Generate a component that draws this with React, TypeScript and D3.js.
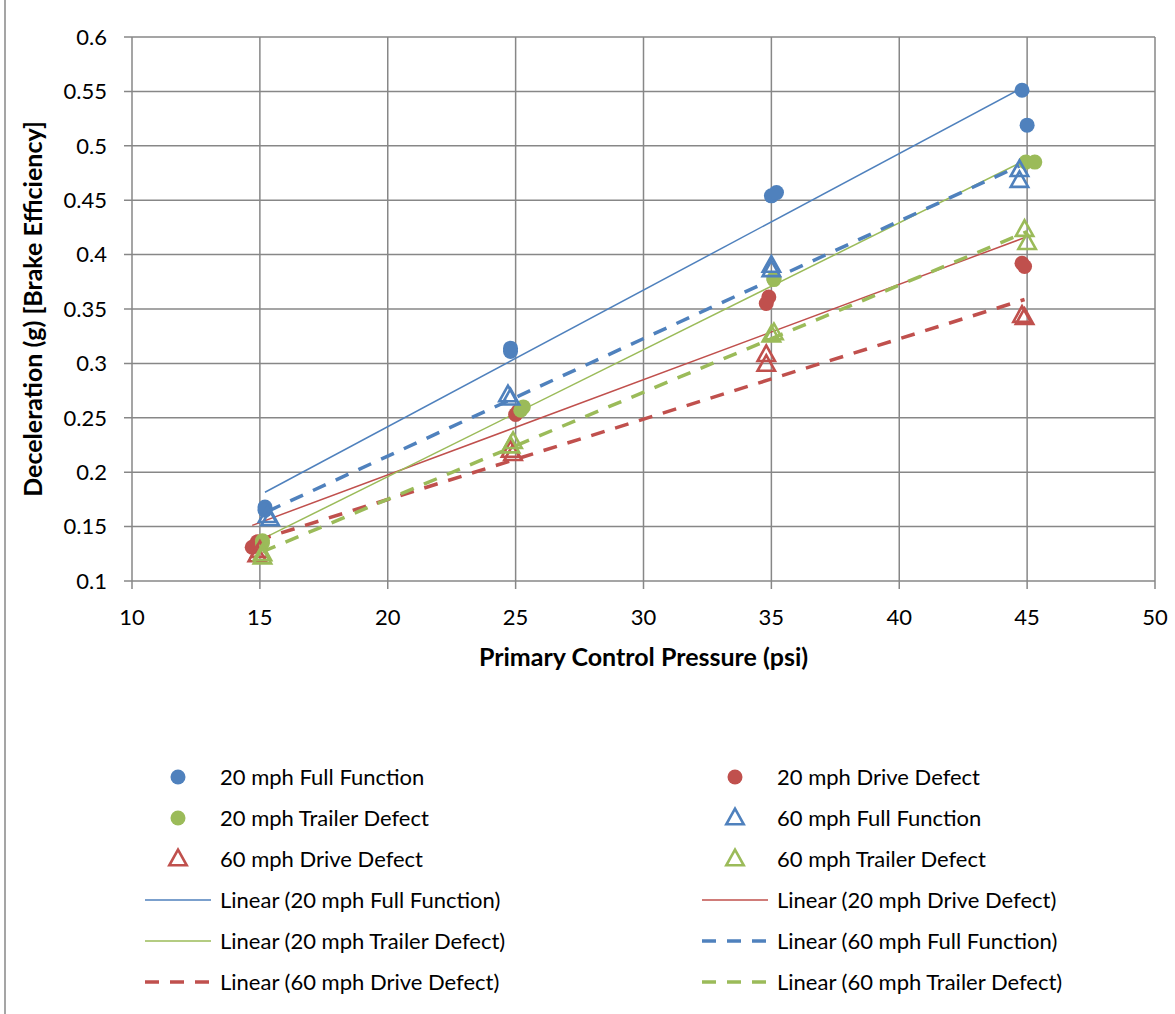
import React from 'react';
import * as d3 from 'd3';

// [psi, g] pairs
const ff20: [number, number][] = [[15.2, 0.168], [15.2, 0.165], [24.8, 0.314], [24.8, 0.311], [35.0, 0.454], [35.2, 0.457], [44.8, 0.551], [45.0, 0.519]];
const dd20: [number, number][] = [[14.7, 0.131], [14.9, 0.136], [25.0, 0.253], [25.1, 0.256], [34.9, 0.361], [34.8, 0.355], [44.8, 0.392], [44.9, 0.389]];
const tt20: [number, number][] = [[15.1, 0.137], [15.1, 0.135], [25.2, 0.257], [25.3, 0.260], [35.1, 0.377], [35.1, 0.378], [44.95, 0.485], [45.3, 0.485]];
const ff60: [number, number][] = [[15.3, 0.160], [15.4, 0.157], [24.7, 0.271], [24.8, 0.268], [35.0, 0.390], [35.0, 0.386], [44.7, 0.478], [44.7, 0.468]];
const dd60: [number, number][] = [[14.9, 0.124], [15.0, 0.128], [24.8, 0.220], [24.9, 0.217], [34.8, 0.308], [34.8, 0.299], [44.8, 0.344], [44.9, 0.342]];
const tt60: [number, number][] = [[15.1, 0.122], [15.1, 0.125], [24.9, 0.228], [24.8, 0.224], [35.0, 0.326], [35.1, 0.328], [44.9, 0.423], [45.0, 0.411]];

const xTicks = [10, 15, 20, 25, 30, 35, 40, 45, 50];
const yTicks = [0.1, 0.15, 0.2, 0.25, 0.3, 0.35, 0.4, 0.45, 0.5, 0.55, 0.6];

const BLUE = '#4F81BD';
const RED = '#C0504D';
const GREEN = '#9BBB59';
const GRID = '#878787';
const FONT = 'Lato, "Open Sans", sans-serif';

type Series = { name: string; data: [number, number][]; color: string; marker: 'circle' | 'triangle'; dashed: boolean };

const series: Series[] = [
  { name: '20 mph Full Function', data: ff20, color: BLUE, marker: 'circle', dashed: false },
  { name: '20 mph Drive Defect', data: dd20, color: RED, marker: 'circle', dashed: false },
  { name: '20 mph Trailer Defect', data: tt20, color: GREEN, marker: 'circle', dashed: false },
  { name: '60 mph Full Function', data: ff60, color: BLUE, marker: 'triangle', dashed: true },
  { name: '60 mph Drive Defect', data: dd60, color: RED, marker: 'triangle', dashed: true },
  { name: '60 mph Trailer Defect', data: tt60, color: GREEN, marker: 'triangle', dashed: true },
];

// least squares line over the series' x range, like Excel's linear trendline
function fit(data: [number, number][]) {
  const mx = d3.mean(data, d => d[0])!;
  const my = d3.mean(data, d => d[1])!;
  const sxy = d3.sum(data, d => (d[0] - mx) * (d[1] - my));
  const sxx = d3.sum(data, d => (d[0] - mx) ** 2);
  const b = sxy / sxx;
  const a = my - b * mx;
  const [x0, x1] = d3.extent(data, d => d[0]) as [number, number];
  return [[x0, a + b * x0], [x1, a + b * x1]] as [number, number][];
}

const tri = (cx: number, cy: number, s: number) =>
  `M${cx},${cy - s * 0.62}L${cx + s * 0.58},${cy + s * 0.42}L${cx - s * 0.58},${cy + s * 0.42}Z`;

export default function App() {
  const width = 1175, height = 1014;
  const left = 132, right = 1155, top = 37, bottom = 581;

  const x = d3.scaleLinear().domain([10, 50]).range([left, right]);
  const y = d3.scaleLinear().domain([0.1, 0.6]).range([bottom, top]);
  const line = d3.line<[number, number]>().x(d => x(d[0])).y(d => y(d[1]));

  const marker = (s: Series, cx: number, cy: number, key: any) =>
    s.marker === 'circle'
      ? <circle key={key} cx={cx} cy={cy} r={7.5} fill={s.color} />
      : <path key={key} d={tri(cx, cy, 15)} fill="none" stroke={s.color} strokeWidth={2.6} />;

  const trend = (s: Series) => ({
    stroke: s.color,
    strokeWidth: s.dashed ? 3.5 : 1.5,
    strokeDasharray: s.dashed ? '14,11' : undefined,
  });

  // legend: 6 series then 6 trend lines, two columns row-major
  const legendItems = [
    ...series.map(s => ({ s, trend: false, label: s.name })),
    ...series.map(s => ({ s, trend: true, label: `Linear (${s.name})` })),
  ];
  const legX = [145, 702];
  const legY0 = 777, legDy = 41;

  return (
    <svg width={width} height={height} style={{ position: 'absolute', left: 0, top: 0, background: '#fff' }} fontFamily={FONT}>
      <line x1={5} x2={5} y1={0} y2={height} stroke={GRID} strokeWidth={1.5} />

      {xTicks.map(t => (
        <g key={'x' + t}>
          <line x1={x(t)} x2={x(t)} y1={top} y2={bottom + 8} stroke={GRID} strokeWidth={1.5} />
          <text x={x(t)} y={625} textAnchor="middle" fontSize={22} fill="#000">{t}</text>
        </g>
      ))}
      {yTicks.map(t => (
        <g key={'y' + t}>
          <line x1={left - 8} x2={right} y1={y(t)} y2={y(t)} stroke={GRID} strokeWidth={1.5} />
          <text x={107} y={y(t)} dy="0.35em" textAnchor="end" fontSize={22} fill="#000">{String(t)}</text>
        </g>
      ))}

      {series.map(s => (
        <path key={'t' + s.name} d={line(fit(s.data))!} fill="none" {...trend(s)} />
      ))}
      {series.map(s => (
        <g key={'m' + s.name}>{s.data.map((d, i) => marker(s, x(d[0]), y(d[1]), i))}</g>
      ))}

      <text x={(left + right) / 2} y={666} textAnchor="middle" fontSize={25} fontWeight="bold">Primary Control Pressure (psi)</text>
      <text transform={`translate(42,${(top + bottom) / 2}) rotate(-90)`} textAnchor="middle" fontSize={25} fontWeight="bold">Deceleration (g) [Brake Efficiency]</text>

      {legendItems.map((it, i) => {
        const col = i % 2, row = Math.floor(i / 2);
        const lx = legX[col], ly = legY0 + row * legDy;
        return (
          <g key={'l' + i}>
            {it.trend
              ? <line x1={lx} x2={lx + 66} y1={ly} y2={ly} {...trend(it.s)} />
              : marker(it.s, lx + 33, ly, 'm')}
            <text x={lx + 75} y={ly} dy="0.35em" fontSize={22} fill="#000">{it.label}</text>
          </g>
        );
      })}
    </svg>
  );
}
